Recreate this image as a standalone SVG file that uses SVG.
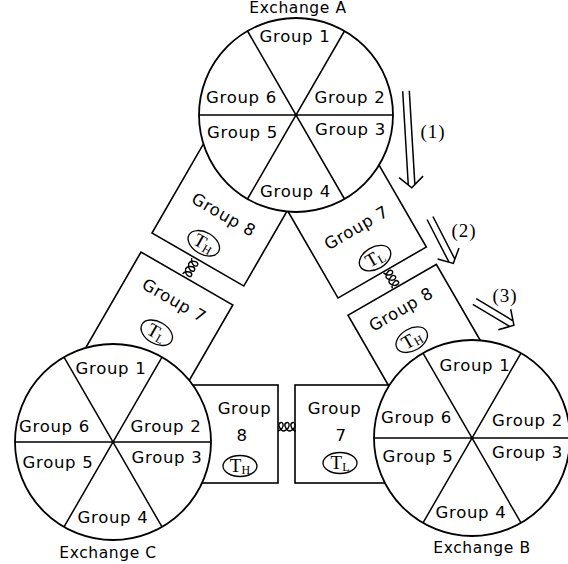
<svg xmlns="http://www.w3.org/2000/svg" width="568" height="564" viewBox="0 0 568 564">
<style>
.bg{fill:#fff}
.box{fill:#fff;stroke:#000;stroke-width:1.6}
.ring{fill:#fff;stroke:#000;stroke-width:1.8}
.sp{fill:none;stroke:#000;stroke-width:1.5}
.lab{font-family:"DejaVu Sans","Liberation Sans",sans-serif;font-size:16.5px;letter-spacing:0.7px;text-anchor:middle;fill:#000}
.ex{font-family:"DejaVu Sans","Liberation Sans",sans-serif;font-size:15.5px;letter-spacing:0.6px;text-anchor:middle;fill:#000}
.ell{fill:none;stroke:#000;stroke-width:1.3}
.tt{font-family:"Liberation Serif",serif;font-size:19px;text-anchor:middle;fill:#000}
.sub{font-size:12px}
.coil{fill:none;stroke:#000;stroke-width:1.4}
.arr{fill:none;stroke:#000;stroke-width:1.5}
.num{font-family:"Liberation Serif",serif;font-size:19px;letter-spacing:1px;text-anchor:middle;fill:#000}
</style>
<defs>
<path id="coil3" d="M0,0 c3,-1 6,-4 5,-7 c-1,-3 -5,-1 -4,2 c1,3 3,5 5,5 c3,-1 6,-4 5,-7 c-1,-3 -5,-1 -4,2 c1,3 3,5 5,5 c3,-1 6,-4 5,-7 c-1,-3 -5,-1 -4,2 c1,3 3,5 5,5"/>
</defs>
<rect class="bg" x="0" y="0" width="568" height="564"/>

<!-- A–C link boxes (rotated 30°) -->
<g id="box-AC-group8" transform="translate(152,233) rotate(30)">
<rect class="box" x="0" y="-140" width="106" height="140"/>
<text class="lab" x="53" y="-46">Group 8</text>
<ellipse class="ell" cx="50" cy="-17" rx="17" ry="11"/>
<text class="tt" x="50" y="-11">T<tspan class="sub" dy="2">H</tspan></text>
</g>
<g id="box-AC-group7" transform="translate(152,233) rotate(30)">
<rect class="box" x="0" y="22" width="106" height="150"/>
<text class="lab" x="53" y="53">Group 7</text>
<ellipse class="ell" cx="54" cy="84" rx="17" ry="11"/>
<text class="tt" x="54" y="90">T<tspan class="sub" dy="2">L</tspan></text>
</g>

<!-- A–B link boxes (rotated -30°) -->
<g id="box-AB-group7" transform="translate(338,298) rotate(-30)">
<rect class="box" x="0" y="-140" width="102" height="140"/>
<text class="lab" x="51" y="-46">Group 7</text>
<ellipse class="ell" cx="52" cy="-16" rx="17" ry="11"/>
<text class="tt" x="52" y="-10">T<tspan class="sub" dy="2">L</tspan></text>
</g>
<g id="box-AB-group8" transform="translate(338,298) rotate(-30)">
<rect class="box" x="0" y="20" width="102" height="170"/>
<text class="lab" x="49" y="47">Group 8</text>
<ellipse class="ell" cx="43" cy="73" rx="17" ry="11"/>
<text class="tt" x="43" y="79">T<tspan class="sub" dy="2">H</tspan></text>
</g>

<!-- C–B link boxes -->
<g id="box-CB-group8">
<rect class="box" x="150" y="385" width="128" height="98"/>
<text class="lab" x="244.5" y="414">Group</text>
<text class="lab" x="242" y="441">8</text>
<ellipse class="ell" cx="240" cy="466" rx="17" ry="10.5"/>
<text class="tt" x="240" y="472">T<tspan class="sub" dy="2">H</tspan></text>
</g>
<g id="box-CB-group7">
<rect class="box" x="295" y="385" width="135" height="98"/>
<text class="lab" x="334.5" y="414">Group</text>
<text class="lab" x="341" y="441">7</text>
<ellipse class="ell" cx="340" cy="463" rx="17" ry="10.5"/>
<text class="tt" x="340" y="469">T<tspan class="sub" dy="2">L</tspan></text>
</g>

<!-- Exchanges -->
<g id="exchangeA">
<circle class="ring" cx="296" cy="115" r="97"/>
<path class="sp" d="M199,115 H393 M247.5,31 L344.5,199 M344.5,31 L247.5,199"/>
<text class="lab" x="295" y="42">Group 1</text>
<text class="lab" x="241.5" y="103">Group 6</text>
<text class="lab" x="350" y="103">Group 2</text>
<text class="lab" x="242.5" y="138">Group 5</text>
<text class="lab" x="350.5" y="135">Group 3</text>
<text class="lab" x="295.5" y="197">Group 4</text>
<text class="ex" x="298" y="13">Exchange A</text>
</g>
<g id="exchangeC">
<circle class="ring" cx="113" cy="442" r="98"/>
<path class="sp" d="M15,442 H211 M64,357.1 L162,526.9 M162,357.1 L64,526.9"/>
<text class="lab" x="111" y="374">Group 1</text>
<text class="lab" x="54.5" y="432">Group 6</text>
<text class="lab" x="166" y="432">Group 2</text>
<text class="lab" x="58" y="468">Group 5</text>
<text class="lab" x="167" y="463">Group 3</text>
<text class="lab" x="113" y="523">Group 4</text>
<text class="ex" x="108" y="558">Exchange C</text>
</g>
<g id="exchangeB">
<circle class="ring" cx="472" cy="438" r="98"/>
<path class="sp" d="M374,438 H570 M423,353.1 L521,522.9 M521,353.1 L423,522.9"/>
<text class="lab" x="475" y="371">Group 1</text>
<text class="lab" x="416.5" y="423">Group 6</text>
<text class="lab" x="527.5" y="426">Group 2</text>
<text class="lab" x="418" y="462">Group 5</text>
<text class="lab" x="527.5" y="458">Group 3</text>
<text class="lab" x="471" y="518">Group 4</text>
<text class="ex" x="482" y="553">Exchange B</text>
</g>

<!-- Connectors: coupling coils and traffic arrows -->
<g id="connectors">
<use class="coil" href="#coil3" transform="translate(152,233) rotate(30) translate(47,2) rotate(90)"/>
<use class="coil" href="#coil3" transform="translate(338,298) rotate(-30) translate(52,1) rotate(90)"/>
<use class="coil" href="#coil3" transform="translate(278,431)"/>
<g class="arr" transform="translate(406,91) rotate(86.6)">
<path d="M0,-3.3 L94,-3.3 M0,3.3 L94,3.3 M86,-12 L97,0 L86,12"/>
</g>
<g class="arr" transform="translate(430,218) rotate(62.8)">
<path d="M0,-3.3 L48,-3.3 M0,3.3 L48,3.3 M40,-12 L51,0 L40,12"/>
</g>
<g class="arr" transform="translate(474.5,301.5) rotate(31)">
<path d="M0,-3.3 L43,-3.3 M0,3.3 L43,3.3 M35,-12 L46,0 L35,12"/>
</g>
<text class="num" x="433" y="138">(1)</text>
<text class="num" x="464" y="237">(2)</text>
<text class="num" x="505" y="302">(3)</text>
</g>
</svg>
